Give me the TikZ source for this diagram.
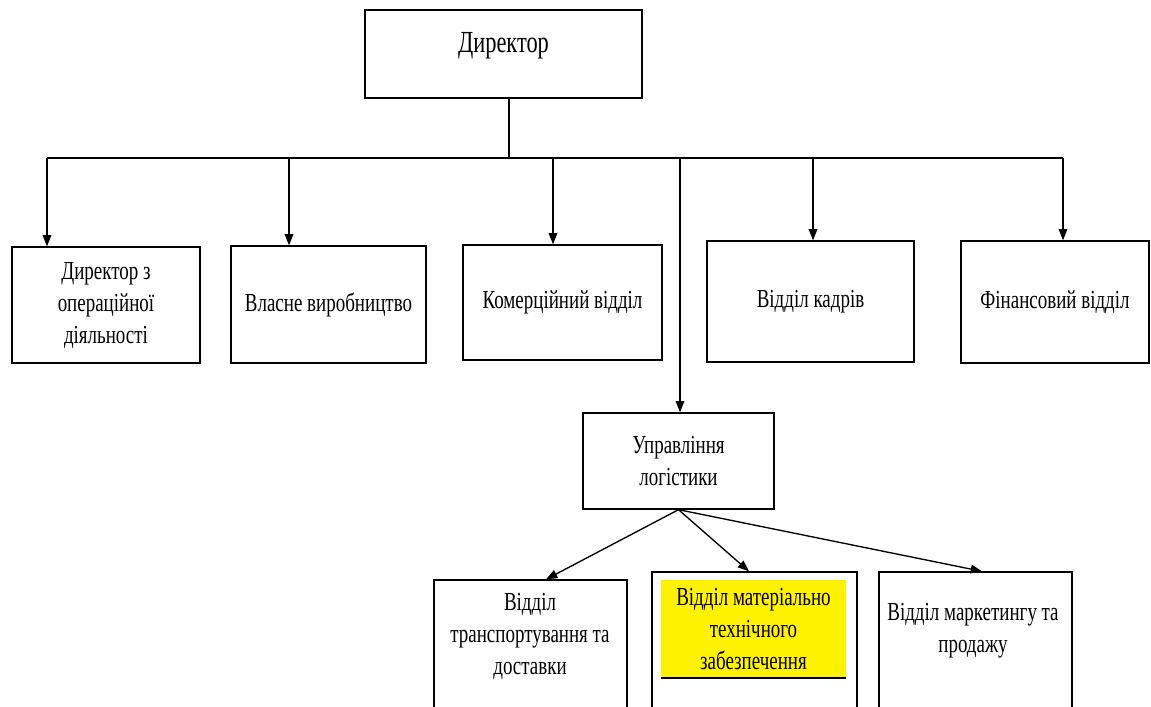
\documentclass[tikz,border=0pt]{standalone}
\usepackage{fontspec}
\setmainfont{Liberation Serif}[FakeStretch=0.73]
\usetikzlibrary{arrows.meta,calc}
\tikzset{
	box/.style={draw, line width=1pt, align=center, inner sep=0pt, font=\fontsize{19.5}{24}\selectfont},
	txt/.style={align=center, inner sep=0pt, font=\fontsize{19.5}{24}\selectfont},
	arr/.style={-{Triangle[length=8.5pt,width=6.5pt]}, line width=1pt}
}

\begin{document}
\begin{tikzpicture}[x=0.75pt,y=-0.75pt]
		\useasboundingbox (0,0) rectangle (1151,706);
		\clip (0,0) rectangle (1151,706);
		\node[box, minimum width=207.75pt, minimum height=66pt, font=\fontsize{23}{26}\selectfont](dir) at (503.5,54){Директор\\[-8pt]\mbox{}};
		\node[box, minimum width=141pt, minimum height=87pt](b1) at (106,305){Директор з\\операційної\\діяльності};
		\node[box, minimum width=146.25pt, minimum height=87.75pt](b2) at (328.5,304.5){Власне виробництво};
		\node[box, minimum width=149.25pt, minimum height=86.25pt](b3) at (562.5,302.5){Комерційний відділ};
		\node[box, minimum width=155.25pt, minimum height=90.75pt](b4) at (810.5,301.5){Відділ кадрів};
		\node[box, minimum width=141pt, minimum height=91.5pt](b5) at (1055,302){Фінансовий відділ};
		\node[box, minimum width=143.25pt, minimum height=72pt](log) at (678.5,461){Управління\\логістики};
		\node[box, minimum width=144.75pt, minimum height=135pt](b6) at (530.5,670){};
		\node[box, minimum width=153.75pt, minimum height=141pt](b7) at (754.5,666){};
		\node[box, minimum width=144.75pt, minimum height=141pt](b8) at (975.5,666){};
		\node[txt](t6) at (530,636){Відділ\\транспортування та\\доставки};
		\node[txt, fill=yellow, minimum width=138.75pt, minimum height=73.5pt](yel) at (753.5,629){Відділ матеріально\\технічного\\забезпечення};
		\node[txt](t8) at (973,631){Відділ маркетингу та\\продажу};
		\draw[line width=1.5pt] (yel.south west) -- (yel.south east);
		\coordinate (d0) at (509,158);
		\coordinate (d1) at (47,158);
		\coordinate (d2) at (289,158);
		\coordinate (d3) at (553,158);
		\coordinate (dl) at (680,158);
		\coordinate (d4) at (813,158);
		\coordinate (d5) at (1063,158);
		\draw[line width=1pt] (d0 |- dir.south) -- (d0);
		\draw[line width=1pt] (d1) -- (d5);
		\path
		(d1) edge[arr] (d1 |- b1.north)
		(d2) edge[arr] (d2 |- b2.north)
		(d3) edge[arr] (d3 |- b3.north)
		(dl) edge[arr] (dl |- log.north)
		(d4) edge[arr] (d4 |- b4.north)
		(d5) edge[arr] (d5 |- b5.north);
		\path
		(log.south) edge[arr] ($(b6.north)+(15.5,0)$)
		(log.south) edge[arr] ($(b7.north)+(-5.5,0)$)
		(log.south) edge[arr] ($(b8.north)+(6.5,0)$);
		\end{tikzpicture}
\end{document}
